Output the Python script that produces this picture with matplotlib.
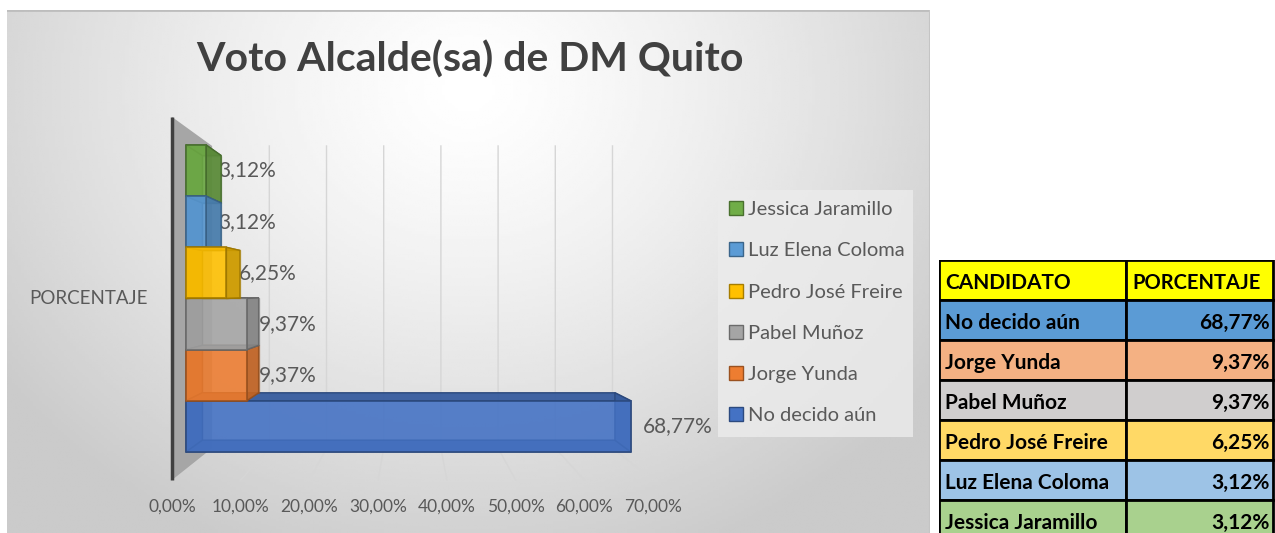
import matplotlib.pyplot as plt
from matplotlib.patches import Polygon, Rectangle, Patch
import matplotlib.colors as mcolors
import numpy as np

plt.rcParams['font.family'] = ['Lato', 'DejaVu Sans']

# datos
titulo = "Voto Alcalde(sa) de DM Quito"
candidatos = ["No decido aún", "Jorge Yunda", "Pabel Muñoz",
              "Pedro José Freire", "Luz Elena Coloma", "Jessica Jaramillo"]
porcentajes = [68.77, 9.37, 9.37, 6.25, 3.12, 3.12]
ticks = [0, 10, 20, 30, 40, 50, 60, 70]
eje_cat = "PORCENTAJE"
encabezado = ["CANDIDATO", "PORCENTAJE"]

# estilos
colores = ["#4472C4", "#ED7D31", "#A5A5A5", "#FFC000", "#5B9BD5", "#70AD47"]
fondos_tabla = ["#5B9BD5", "#F4B183", "#D0CECE", "#FFD966", "#9DC3E6", "#A9D18E"]
gris_txt = "#595959"

W, H = 1275, 533
X0, PX_PCT = 186, 6.47      # pixel of 0 %, pixels per %
Y0, PX_ROW = 452, 51.17     # pixel of bottom of first bar, pixels per bar
VP = (34.8, (Y0 - 290) / PX_ROW)   # vanishing point (data coords)
K_BAR, K_BACK, K_FRONT = 0.073, 0.116, -0.062


def pct(v):
    return ("%.2f%%" % v).replace('.', ',')


def persp(p, k):
    return (p[0] + k * (VP[0] - p[0]), p[1] + k * (VP[1] - p[1]))


def shade(c, f):
    r, g, b = mcolors.to_rgb(c)
    return (r * f, g * f, b * f)


fig = plt.figure(figsize=(W / 100, H / 100), dpi=100)

# fondo con degradado
bg = fig.add_axes([7 / W, 0, (930 - 7) / W, (H - 10) / H])
gx, gy = np.meshgrid(np.linspace(0, 1, 300), np.linspace(0, 1, 200))
d = np.sqrt(((gx - 0.5) / 0.62) ** 2 + ((gy - 0.85) / 0.95) ** 2)
g = np.clip(255 - 52 * np.clip(d, 0, 1) ** 1.3, 0, 255)
bg.imshow(g, cmap='gray', vmin=0, vmax=255, extent=[0, 1, 0, 1],
          aspect='auto', origin='lower')
bg.axhline(1, color='#bdbdbd', lw=2)
bg.axvline(1, color='#c4c4c4', lw=1.5)
bg.set_axis_off()

ax = fig.add_axes([0, 0, 1, 1])
ax.patch.set_alpha(0)
ax.set_xlim(-X0 / PX_PCT, (W - X0) / PX_PCT)
ax.set_ylim((Y0 - H) / PX_ROW, Y0 / PX_ROW)
ax.set_axis_off()

# pared lateral
r_top, r_bot = 6.35, -0.33
pared = [persp((0, r_top), K_FRONT), persp((0, r_top), K_BACK),
         persp((0, r_bot), K_BACK), persp((0, r_bot), K_FRONT)]
ax.add_patch(Polygon(pared, closed=True, fc='#a6a6a6', ec='none', zorder=1))
ax.plot([pared[0][0], pared[3][0]], [pared[0][1], pared[3][1]],
        color='#404040', lw=2.5, zorder=1.2, solid_capstyle='butt')

# lineas de cuadricula
for t in ticks[1:]:
    a = persp((t, r_top), K_BACK)
    b = persp((t, r_bot), K_BACK)
    c = persp((t, r_bot), K_FRONT)
    ax.plot([a[0], b[0], c[0]], [a[1], b[1], c[1]], color='#d6d6d6', lw=1, zorder=1.1)

# etiquetas del eje x
for t in ticks:
    x, _ = persp((t, 0), K_FRONT)
    ax.text(x, (Y0 - 507) / PX_ROW, pct(t), ha='center', va='center',
            fontsize=12.5, color=gris_txt)

ax.text((148 - X0) / PX_PCT, (Y0 - 298) / PX_ROW, eje_cat, ha='right',
        va='center', fontsize=13.5, color=gris_txt)


def caja(x1, r0, r1, color, z):
    f = [(0, r0), (x1, r0), (x1, r1), (0, r1)]
    b = [persp(p, K_BAR) for p in f]
    oscuro = shade(color, 0.8)
    borde = shade(color, 0.62)
    ax.add_patch(Polygon(b, fc=color, alpha=0.45, ec=borde, lw=1, zorder=z))
    for cara in ([f[0], f[3], b[3], b[0]], [f[0], f[1], b[1], b[0]],
                 [f[3], f[2], b[2], b[3]], [f[1], f[2], b[2], b[1]]):
        ax.add_patch(Polygon(cara, fc=oscuro, alpha=0.9, ec=borde, lw=1, zorder=z))
    ax.add_patch(Polygon(f, fc=color, alpha=0.8, ec=borde, lw=1.3, zorder=z))


orden = [0, 1, 2, 5, 4, 3]
for n, i in enumerate(orden):
    caja(porcentajes[i], i, i + 1, colores[i], 3 + n * 0.1)

for i, v in enumerate(porcentajes):
    ax.text(v + 1.9, i + 0.5, pct(v), ha='left', va='center',
            fontsize=15, color=gris_txt, zorder=2)

fig.text(470 / W, 1 - 60 / H, titulo, ha='center', va='center',
         fontsize=29.5, fontweight='bold', color='#404040')

# leyenda
fig.patches.append(Rectangle((718 / W, 1 - 437 / H), 195 / W, 247 / H,
                             transform=fig.transFigure, fc='#ececec', ec='none',
                             alpha=0.8, zorder=0.5))
handles = [Patch(fc=colores[i], ec=shade(colores[i], 0.65), label=candidatos[i])
           for i in range(len(candidatos) - 1, -1, -1)]
fig.legend(handles=handles, loc='upper left', bbox_to_anchor=(729 / W, 1 - 201 / H),
           frameon=False, fontsize=14.5, labelspacing=1.2, handlelength=0.7,
           handleheight=0.7, handletextpad=0.25, labelcolor=gris_txt,
           borderpad=0, borderaxespad=0)

# tabla
tb = fig.add_axes([939 / W, (H - 540) / H, (W - 939) / W, 280 / H])
tb.set_xlim(0, 1)
tb.set_ylim(7, 0)
tb.set_axis_off()
split = 0.557
filas = [(encabezado[0], encabezado[1], '#FFFF00')] + \
        [(candidatos[i], pct(porcentajes[i]), fondos_tabla[i]) for i in range(len(candidatos))]
for r, (c1, c2, fc) in enumerate(filas):
    tb.add_patch(Rectangle((0, r), split, 1, fc=fc, ec='black', lw=2))
    tb.add_patch(Rectangle((split, r), 1 - split - 0.006, 1, fc=fc, ec='black', lw=2))
    tb.text(0.018, r + 0.58, c1, ha='left', va='center', fontsize=15,
            fontweight='bold', color='black')
    if r == 0:
        tb.text(split + 0.018, r + 0.58, c2, ha='left', va='center', fontsize=14.5,
                fontweight='bold', color='black')
    else:
        tb.text(0.985, r + 0.58, c2, ha='right', va='center', fontsize=15,
                fontweight='bold', color='black')

fig.savefig('out.png', dpi=100, facecolor='white')
